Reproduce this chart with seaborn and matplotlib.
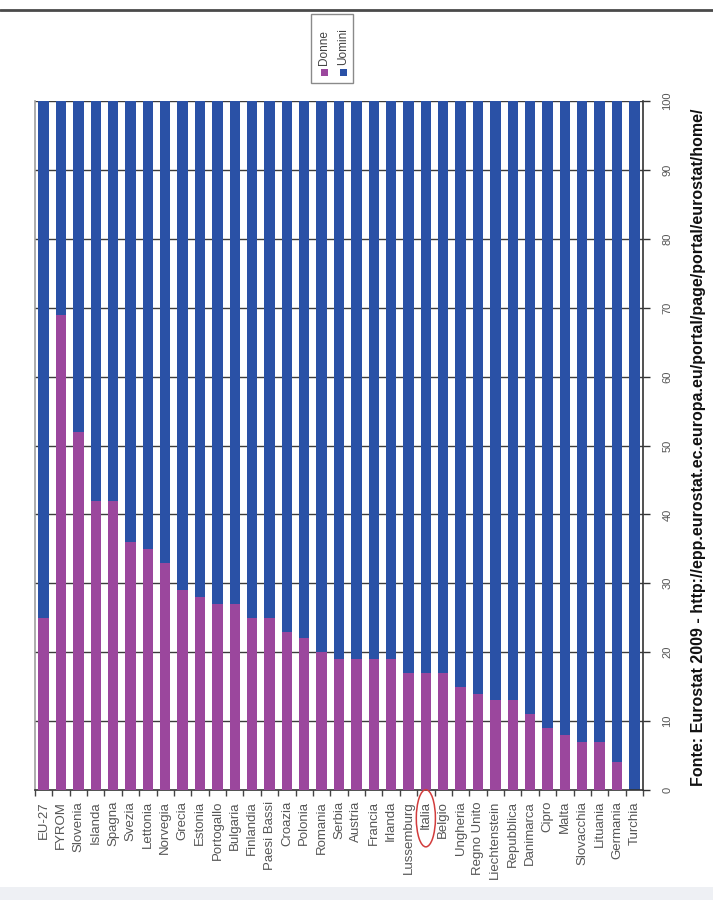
import matplotlib
matplotlib.use("Agg")
import matplotlib.pyplot as plt
from matplotlib.patches import Rectangle, Ellipse
from matplotlib.lines import Line2D
import matplotlib.transforms as mtransforms
import numpy as np
import pandas as pd
import seaborn as sns

# Quota di donne e uomini per paese (%)
paesi = ["EU-27", "FYROM", "Slovenia", "Islanda", "Spagna", "Svezia", "Lettonia",
         "Norvegia", "Grecia", "Estonia", "Portogallo", "Bulgaria", "Finlandia",
         "Paesi Bassi", "Croazia", "Polonia", "Romania", "Serbia", "Austria",
         "Francia", "Irlanda", "Lussemburg", "Italia", "Belgio", "Ungheria",
         "Regno Unito", "Liechtenstein", "Repubblica", "Danimarca", "Cipro",
         "Malta", "Slovacchia", "Lituania", "Germania", "Turchia"]
donne = [25, 69, 52, 42, 42, 36, 35, 33, 29, 28, 27, 27, 25, 25, 23, 22, 20,
         19, 19, 19, 19, 17, 17, 17, 15, 14, 13, 13, 11, 9, 8, 7, 7, 4, 0]
uomini = [75, 31, 48, 58, 58, 64, 65, 67, 71, 72, 73, 73, 75, 75, 77, 78, 80,
          81, 81, 81, 81, 83, 83, 83, 85, 86, 87, 87, 89, 91, 92, 93, 93, 96, 100]
y_ticks = [0, 10, 20, 30, 40, 50, 60, 70, 80, 90, 100]
fonte = "Fonte: Eurostat 2009 - http://epp.eurostat.ec.europa.eu/portal/page/portal/eurostat/home/"

COL_DONNE = "#9b479d"
COL_UOMINI = "#2a51a6"

sns.set_style("white")
plt.rcParams["font.family"] = ["Liberation Sans", "DejaVu Sans"]

df = pd.DataFrame({"paese": paesi, "donne": donne, "uomini": uomini})
df["totale"] = df["donne"] + df["uomini"]

W, H = 713, 900
fig = plt.figure(figsize=(W / 100, H / 100), dpi=100)
fig.patch.set_facecolor("white")
ax = fig.add_axes([35 / W, 110 / H, 608 / W, 689 / H])

# grid first, bars on top
for v in y_ticks[1:]:
    ax.axhline(v, color="#3c3c3c", lw=1.0, zorder=0)

sns.barplot(data=df, x="paese", y="totale", color=COL_UOMINI, width=0.6,
            saturation=1, ax=ax, zorder=2, linewidth=0)
sns.barplot(data=df, x="paese", y="donne", color=COL_DONNE, width=0.6,
            saturation=1, ax=ax, zorder=3, linewidth=0)

ax.set_xlim(-0.5, len(paesi) - 0.5)
ax.set_ylim(0, 100)
ax.set_xlabel("")
ax.set_ylabel("")

# value axis on the right, labels turned
ax.yaxis.tick_right()
ax.set_yticks(y_ticks)
ax.set_yticklabels([str(v) for v in y_ticks], rotation=90, va="center",
                   fontsize=8, color="#555555")
ax.tick_params(axis="y", which="major", direction="out", length=5, width=1,
               color="#333333", pad=9, right=True, left=False)

# category axis: labels at centres, ticks at boundaries
ax.set_xticks(range(len(paesi)))
ax.set_xticklabels(paesi, rotation=90, ha="center", va="top", fontsize=9.5,
                   color="#555555")
ax.tick_params(axis="x", which="major", length=0, pad=8)
ax.set_xticks(np.arange(-0.5, len(paesi), 1.0), minor=True)
ax.tick_params(axis="x", which="minor", direction="out", length=4, width=1,
               color="#444444", bottom=True)

ax.spines["top"].set_visible(False)
ax.spines["left"].set_color("#a0a0a0")
ax.spines["left"].set_linewidth(1.2)
ax.spines["bottom"].set_color("#333333")
ax.spines["bottom"].set_linewidth(1.2)
ax.spines["right"].set_color("#333333")
ax.spines["right"].set_linewidth(1.2)

# red ring around Italia
trans = mtransforms.blended_transform_factory(ax.transData, ax.transAxes)
i_it = paesi.index("Italia")
ax.add_patch(Ellipse((i_it, -0.041), 1.1, 0.083, transform=trans, fill=False,
                     edgecolor="#d23c3c", lw=1.1, clip_on=False, zorder=5))

# source line
fig.text(698 / W, 1 - 447 / H, fonte, rotation=90, ha="center", va="center",
         fontsize=11.5, fontweight="bold", color="#111111")

# legend box
fig.add_artist(Rectangle((311 / W, 1 - 83 / H), 42 / W, 69 / H,
                         transform=fig.transFigure, fill=False,
                         edgecolor="#8a8a8a", lw=1.0))
for x, lab, col in ((324, "Donne", COL_DONNE), (343, "Uomini", COL_UOMINI)):
    fig.add_artist(Rectangle(((x - 3.5) / W, 1 - 76 / H), 7 / W, 7 / H,
                             transform=fig.transFigure, facecolor=col,
                             edgecolor="none"))
    fig.text(x / W, 1 - 65 / H, lab, rotation=90, ha="center", va="bottom",
             fontsize=8.5, color="#444444")

# frame line at top and light strip at bottom
fig.add_artist(Line2D([0, 1], [1 - 9.5 / H, 1 - 9.5 / H], transform=fig.transFigure,
                      color="#4a4a4a", lw=2.0))
fig.add_artist(Rectangle((0, 0), 1, 13 / H, transform=fig.transFigure,
                         facecolor="#eef0f4", edgecolor="none"))

fig.savefig("out.png", dpi=100)
